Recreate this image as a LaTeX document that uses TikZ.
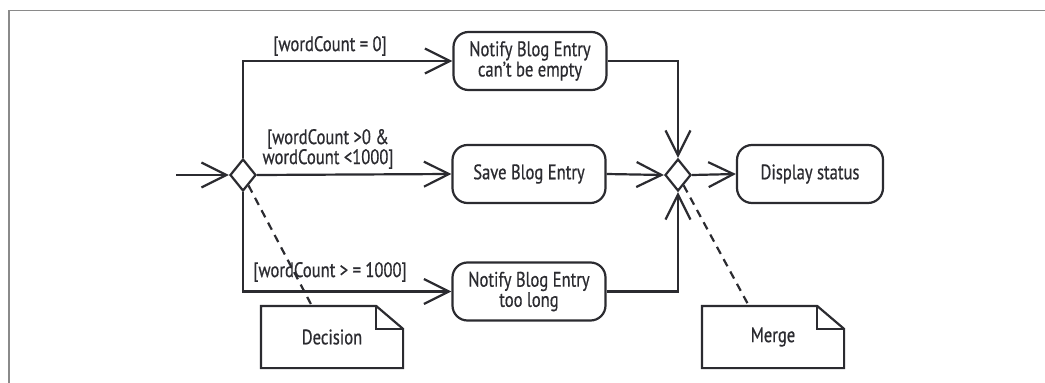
\documentclass[tikz,border=0pt]{standalone}
\usepackage{fontspec}
\setmainfont[FakeStretch=0.79,FakeBold=0.6]{PT Sans}
\usetikzlibrary{arrows.meta,shapes.geometric,calc}
\definecolor{ink}{HTML}{2B2B30}
\definecolor{framegray}{HTML}{8A8A8A}
\begin{document}
\begin{tikzpicture}[x=1pt,y=-1pt,
  line width=2.2pt, draw=ink, text=ink,
  every node/.style={font=\fontsize{21}{18}\selectfont},
  act/.style={draw, rounded corners=15pt, minimum width=153pt, minimum height=58pt, align=center, inner sep=2pt},
  branch/.style={draw, diamond, minimum width=26pt, minimum height=32pt, inner sep=0pt},
  notebox/.style={minimum width=140pt, minimum height=60pt, inner sep=0pt},
  flow/.style={draw=ink, -{Straight Barb[length=25pt,width=25pt,line width=2.2pt]}},
  link/.style={draw=ink, dash pattern=on 8pt off 6pt},
  guard/.style={align=center, inner sep=1pt, font=\fontsize{21}{20}\selectfont}
]
\useasboundingbox (0,0) rectangle (1045,383);
\draw[framegray, line width=1.4pt] (9,383) -- (9,10.5) -- (1045,10.5);

% decision and merge
\node[branch] (d1) at (243,175) {};
\node[branch] (d2) at (678,175) {};
\coordinate (start) at (176,175);

% activities
\node[act] (n1) at (530,61) {Notify Blog Entry\\can't be empty};
\node[act] (n2) at (529,174) {Save Blog Entry};
\node[act] (n3) at (529,291.5) {Notify Blog Entry\\too long};
\node[act, minimum width=146pt] (n4) at (810,174) {Display status};

% notes
\node[notebox] (dn) at (332,337) {Decision};
\node[notebox] (mn) at (773,337) {Merge};
\foreach \n in {dn,mn}{
  \draw (\n.north west) -- ([xshift=-27pt]\n.north east) -- ([yshift=-23pt]\n.north east)
        -- (\n.south east) -- (\n.south west) -- cycle;
  \draw ([xshift=-27pt]\n.north east) |- ([yshift=-23pt]\n.north east);
}
\coordinate (dnt) at ($(dn.north west)+(51,0)$);
\coordinate (mnt) at ($(mn.north west)+(47,0)$);

% flows
\draw[flow] (start) -- (d1.west);
\draw[flow] (d1.north) |- (n1.west);
\draw[flow] (d1.east) -- (n2.west);
\draw[flow] (d1.south) |- (n3.west);
\draw[flow] (n1.east) -| (d2.north);
\draw[flow] (n2.east) -- (d2.west);
\draw[flow] (n3.east) -| (d2.south);
\draw[flow] (d2.east) -- (n4.west);

% note links
\draw[link] (d1) -- (dnt);
\draw[link] (d2) -- (mnt);

% guards
\node[guard] (g1) at (330,46) {[wordCount = 0]};
\node[guard] (g2) at (328,149) {[wordCount >0 \&\\wordCount <1000]};
\node[guard] (g3) at (330,272) {[wordCount > = 1000]};
\end{tikzpicture}
\end{document}
